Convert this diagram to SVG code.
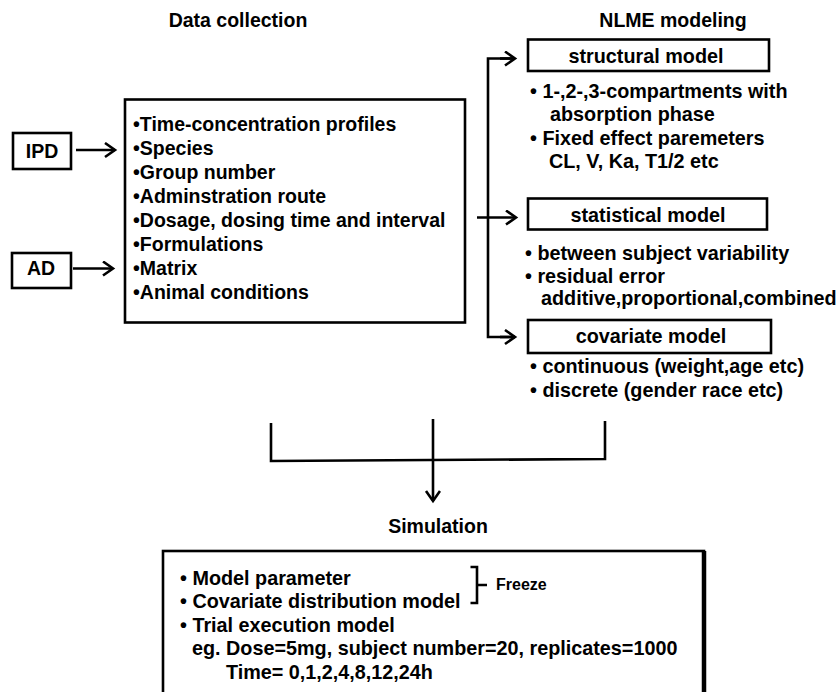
<svg xmlns="http://www.w3.org/2000/svg" width="839" height="692" viewBox="0 0 839 692">
<style>
text{font-family:"Liberation Sans",Arial,sans-serif;font-weight:bold;font-size:19.5px;fill:#000}
.c{text-anchor:middle}
.r{font-size:19.8px}
.box{fill:#fff;stroke:#000;stroke-width:2.6}
.ln{fill:none;stroke:#000;stroke-width:2.6}
</style>
<defs>
<marker id="ah" markerUnits="userSpaceOnUse" markerWidth="16" markerHeight="18" refX="12" refY="8" orient="auto">
<path d="M2,1 L12,8 L2,15" fill="none" stroke="#000" stroke-width="2.6"/>
</marker>
</defs>
<rect width="839" height="692" fill="#fff"/>
<text class="c" x="238" y="27">Data collection</text>
<text class="c" x="673" y="27">NLME modeling</text>
<text class="c" x="438" y="533">Simulation</text>
<g id="ipd"><rect class="box" x="13" y="133" width="58" height="36"/><text class="c" x="42" y="158">IPD</text></g>
<g id="ad"><rect class="box" x="12" y="253" width="59" height="35"/><text class="c" x="41" y="275">AD</text></g>
<g id="data">
<rect class="box" x="125" y="99.5" width="340" height="223" stroke-width="3.2"/>
<text x="133" y="131">•Time-concentration profiles</text>
<text x="133" y="155">•Species</text>
<text x="133" y="179">•Group number</text>
<text x="133" y="203">•Adminstration route</text>
<text x="133" y="227">•Dosage, dosing time and interval</text>
<text x="133" y="251">•Formulations</text>
<text x="133" y="275">•Matrix</text>
<text x="133" y="299">•Animal conditions</text>
</g>
<g id="structural">
<rect class="box" x="528" y="39.5" width="241" height="31.5"/>
<text class="c r" x="646" y="63">structural model</text>
<text class="r" x="530" y="98">• 1-,2-,3-compartments with</text>
<text class="r" x="550" y="121">absorption phase</text>
<text class="r" x="530" y="145">• Fixed effect paremeters</text>
<text class="r" x="549" y="168">CL, V, Ka, T1/2 etc</text>
</g>
<g id="statistical">
<rect class="box" x="528" y="198.5" width="239" height="31"/>
<text class="c r" x="648" y="221.5">statistical model</text>
<text class="r" x="525" y="260">• between subject variability</text>
<text class="r" x="525" y="283">• residual error</text>
<text class="r" x="541" y="305">additive,proportional,combined</text>
</g>
<g id="covariate">
<rect class="box" x="528" y="320" width="243" height="33"/>
<text class="c r" x="651" y="343">covariate model</text>
<text class="r" x="530" y="373">• continuous (weight,age etc)</text>
<text class="r" x="530" y="397">• discrete (gender race etc)</text>
</g>
<g id="simulation">
<rect class="box" x="163" y="551" width="541" height="160"/>
<line x1="704" y1="551" x2="704" y2="700" stroke="#000" stroke-width="4.5"/>
<text class="r" x="180" y="584.5">• Model parameter</text>
<text class="r" x="180" y="608">• Covariate distribution model</text>
<text class="r" x="180" y="631.5">• Trial execution model</text>
<text class="r" x="192" y="655">eg. Dose=5mg, subject number=20, replicates=1000</text>
<text class="r" x="226" y="678.5">Time= 0,1,2,4,8,12,24h</text>
<path class="ln" d="M470.5,567 H477 V603 H470.5 M477,585 H487"/>
<text x="496" y="590" style="font-size:16px">Freeze</text>
</g>
<g id="connectors">
<line class="ln" x1="76" y1="150" x2="115" y2="150" marker-end="url(#ah)"/>
<line class="ln" x1="73" y1="268.5" x2="113" y2="268.5" marker-end="url(#ah)"/>
<line class="ln" x1="477" y1="217.5" x2="516" y2="217.5" marker-end="url(#ah)"/>
<path class="ln" d="M515,58.5 H488 V337 H515"/>
<line class="ln" x1="500" y1="58.5" x2="515" y2="58.5" marker-end="url(#ah)"/>
<line class="ln" x1="500" y1="337" x2="515" y2="337" marker-end="url(#ah)"/>
<path class="ln" d="M271,423 V461 L605,459 V421"/>
<line class="ln" x1="433" y1="419" x2="433" y2="501" marker-end="url(#ah)"/>
</g>
</svg>
